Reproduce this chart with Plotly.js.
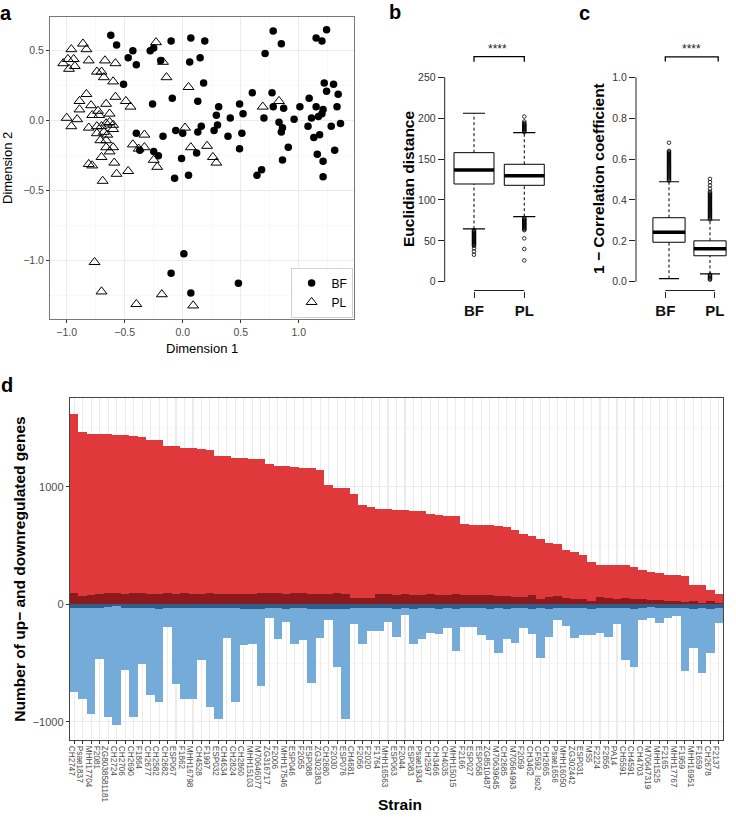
<!DOCTYPE html>
<html><head><meta charset="utf-8">
<script src="https://cdn.plot.ly/plotly-3.0.1.min.js"></script>
<style>html,body{margin:0;padding:0;background:#fff}#chart{width:736px;height:819px}</style>
</head><body><div id="chart"></div>
<script>
// ---------- Panel a: MDS coordinates ----------
const bfX = [-0.62,-0.57,-0.43,-0.47,-0.40,-0.51,-0.28,-0.25,-0.19,-0.10,0.07,0.19,0.06,0.15,0.18,-0.09,0.13,-0.26,0.31,0.49,0.29,0.41,0.30,0.16,0.27,0.13,-0.06,0.00,-0.40,-0.17,0.39,0.49,-0.37,-0.25,-0.21,0.12,-0.01,-0.07,0.05,
  0.78,0.85,0.71,1.15,1.20,1.24,0.60,0.77,0.78,0.87,0.70,0.83,0.86,0.85,0.96,1.01,1.09,1.08,1.11,1.15,1.17,1.20,1.21,1.18,1.13,1.22,1.24,1.30,1.34,1.33,1.36,1.28,1.31,1.16,1.21,1.21,0.91,0.86,0.64,0.68,0.52,0.51,
  0.01,-0.10,0.07,0.48];
const bfY = [0.61,0.54,0.50,0.45,0.40,0.26,0.50,0.52,0.43,0.57,0.59,0.57,0.42,0.45,0.27,0.16,0.14,0.12,0.10,0.12,0.04,0.02,-0.03,-0.04,-0.07,-0.08,-0.07,-0.09,-0.09,-0.11,-0.11,-0.20,-0.21,-0.22,-0.25,-0.23,-0.27,-0.41,-0.39,
  0.64,0.55,0.48,0.59,0.57,0.65,0.20,0.20,0.10,0.09,0.02,-0.01,-0.05,-0.08,0.01,0.10,0.16,-0.04,0.02,0.10,0.03,0.05,0.08,-0.10,-0.12,0.27,0.21,0.26,0.19,0.10,-0.02,-0.04,-0.21,-0.24,-0.29,-0.40,-0.19,-0.28,-0.39,-0.35,0.05,-0.09,
  -0.95,-1.09,-1.23,-1.16];
const plX = [-0.86,-0.96,-0.83,-1.03,-0.99,-0.94,-0.98,-0.93,-0.81,-0.67,-0.58,-0.74,-0.70,-0.68,-0.60,-0.23,-0.17,-0.14,0.05,-0.83,-0.89,-0.79,-0.89,-0.66,-0.58,-0.49,-0.45,-0.73,-0.63,-0.78,-0.72,-1.00,-0.91,-0.96,-0.81,-0.74,-0.70,-0.66,-0.63,-0.60,-0.74,-0.68,-0.65,-0.60,-0.71,-0.66,-0.66,-0.63,-0.60,-0.70,-0.81,-0.78,-0.59,-0.57,-0.47,-0.69,-0.33,-0.43,-0.38,-0.33,-0.25,-0.22,0.02,0.07,0.21,0.26,0.29,0.69,0.83,-0.76,-0.70,-0.40,-0.18,0.09];
const plY = [0.55,0.51,0.51,0.41,0.44,0.44,0.37,0.39,0.43,0.43,0.41,0.35,0.35,0.31,0.28,0.56,0.42,0.31,0.24,0.19,0.14,0.11,0.08,0.12,0.17,0.14,0.10,0.07,0.05,0.04,0.04,0.02,0.01,-0.04,-0.05,-0.04,-0.04,-0.02,-0.01,-0.03,-0.09,-0.08,-0.10,-0.06,-0.14,-0.14,-0.19,-0.22,-0.19,-0.26,-0.31,-0.32,-0.30,-0.38,-0.36,-0.43,-0.10,-0.17,-0.20,-0.19,-0.28,-0.33,-0.05,-0.19,-0.18,-0.26,-0.30,0.10,0.14,-1.01,-1.22,-1.31,-1.24,-1.32];

// ---------- Panels b & c: box statistics ----------
const groups = ['BF','PL'];
const groupPos = [1, 2];
const eucQ1 = [119.5, 117.9];
const eucMedian = [136.6, 129.6];
const eucQ3 = [157.8, 143.6];
const eucLowWhisker = [64.5, 79.5];
const eucHighWhisker = [206, 182.2];
const eucOutBF = [63,62,61,60,59,58,57,56,55,54,53,52,51,50,49,48,47,46,45,44,41,37,33];
const eucOutPL = [183,184,185,186,187,188,189,190,191,192,193,194,196,202,78,77,76,75,74,73,72,71,70,69,68,67,66,65,64,63,53,40,26];
const corQ1 = [0.193, 0.127];
const corMedian = [0.242, 0.161];
const corQ3 = [0.313, 0.200];
const corLowWhisker = [0.015, 0.038];
const corHighWhisker = [0.489, 0.302];
const corOutBF = [0.495,0.50,0.505,0.51,0.515,0.52,0.525,0.53,0.535,0.54,0.545,0.55,0.555,0.56,0.565,0.57,0.575,0.58,0.585,0.59,0.595,0.60,0.605,0.61,0.615,0.62,0.625,0.63,0.635,0.64,0.68];
const corOutPL = [0.305,0.31,0.315,0.32,0.325,0.33,0.335,0.34,0.345,0.35,0.355,0.36,0.365,0.37,0.375,0.38,0.385,0.39,0.395,0.40,0.405,0.41,0.415,0.42,0.425,0.43,0.435,0.44,0.455,0.471,0.487,0.503,0.035,0.03,0.025,0.02,0.015,0.01];

// ---------- Panel d: up / down regulated genes per strain ----------
const strains = ['CH2747','Psae1837','MHH17704','F2081','ZG8038581181','CH2724','CH2706','CH2690','F1864','CH2677','CH2582','CH2682','ESP067','F1862','MHH16798','CH4528','F1997','ESP032','CH4634','CH2824','CH2860','MHH15103','M70646077','ZG316717','F2006','MHH17546','ESP046','F2055','ESP088','ZG302383','CH2680','F2030','ESP076','CH4681','F2056','F2020','F1764','MHH16563','ESP063','F2044','ESP083','Psae1934','CH2597','CH3466','CH4035','MHH15015','F2166','ESP027','ESP058','ZG8510487','M70639645','CH2685','M70564993','F2059','CH3462','CF592_Iso2','CH2665','Psae1656','MHH16050','ZG302442','ESP031','MS5','F2224','F2856','PA14','CH5591','CH4591','CH4703','M70647319','MHH1525','F2165','MHH17767','F1959','MHH16951','F1659','CH2678','F2137'];
const upTotal = [1616,1466,1452,1446,1444,1438,1436,1432,1424,1396,1394,1347,1345,1333,1325,1319,1314,1263,1258,1248,1243,1235,1235,1189,1178,1174,1165,1162,1160,1142,1015,992,986,940,847,827,810,806,804,799,796,793,764,760,752,749,686,677,676,672,664,656,629,600,580,558,520,516,459,444,418,362,338,336,336,334,316,291,276,263,250,247,243,166,162,121,88];
const upStrong = [93,74,76,90,92,94,91,93,92,90,88,92,90,93,91,89,92,90,88,91,90,88,92,94,93,90,92,95,90,91,88,93,90,52,50,54,84,86,82,85,80,83,86,82,80,84,79,82,80,81,72,70,60,66,78,42,58,70,50,46,42,28,60,52,48,55,46,44,40,36,30,24,16,28,10,24,12];
const downTotal = [-748,-808,-935,-468,-961,-1026,-561,-955,-505,-771,-828,-196,-678,-808,-808,-474,-871,-978,-289,-831,-349,-338,-695,-119,-295,-153,-340,-304,-672,-284,-134,-530,-975,-170,-338,-224,-224,-150,-275,-91,-340,-295,-241,-252,-204,-394,-196,-190,-261,-304,-417,-295,-332,-204,-252,-459,-275,-134,-184,-284,-261,-261,-246,-275,-167,-474,-530,-134,-119,-156,-119,-99,-567,-374,-581,-417,-156];
const downStrong = [-32,-35,-30,-28,-24,-18,-30,-34,-30,-33,-36,-30,-28,-34,-32,-30,-35,-33,-30,-31,-38,-36,-40,-35,-33,-37,-35,-34,-38,-36,-40,-37,-42,-30,-33,-35,-32,-34,-36,-30,-38,-33,-35,-36,-32,-40,-30,-33,-35,-38,-28,-36,-30,-34,-40,-32,-36,-30,-28,-33,-30,-42,-35,-30,-33,-28,-40,-30,-26,-32,-30,-28,-35,-40,-30,-42,-35];

// ---------- build ----------
const FONT = 'Liberation Sans, Arial, Helvetica, sans-serif';
const W = 736, H = 819;
const px = v => v / W;
const py = v => 1 - v / H;
const traces = [];

traces.push({type:'scatter', mode:'markers', name:'BF', x:bfX, y:bfY, xaxis:'x', yaxis:'y',
  marker:{symbol:'circle', size:7.5, color:'#000'}, showlegend:true});
traces.push({type:'scatter', mode:'markers', name:'PL', x:plX, y:plY, xaxis:'x', yaxis:'y',
  marker:{symbol:'triangle-up-open', size:9.5, color:'#000', line:{width:1, color:'#000'}}, showlegend:true});

function boxPanel(ax, ay, q1, med, q3, lo, hi, outs, boxW, capW) {
  for (let i = 0; i < groups.length; i++) {
    const c = groupPos[i];
    traces.push({type:'scatter', mode:'lines', x:[c,c], y:[q3[i],hi[i]], xaxis:ax, yaxis:ay, showlegend:false,
      line:{color:'#000', width:1, dash:'3px,2.5px'}});
    traces.push({type:'scatter', mode:'lines', x:[c,c], y:[lo[i],q1[i]], xaxis:ax, yaxis:ay, showlegend:false,
      line:{color:'#000', width:1, dash:'3px,2.5px'}});
    traces.push({type:'scatter', mode:'lines', x:[c-capW/2,c+capW/2], y:[hi[i],hi[i]], xaxis:ax, yaxis:ay, showlegend:false,
      line:{color:'#000', width:1.2}});
    traces.push({type:'scatter', mode:'lines', x:[c-capW/2,c+capW/2], y:[lo[i],lo[i]], xaxis:ax, yaxis:ay, showlegend:false,
      line:{color:'#000', width:1.2}});
    traces.push({type:'box', x:[c], q1:[q1[i]], median:[med[i]], q3:[q3[i]], lowerfence:[q1[i]], upperfence:[q3[i]],
      width:boxW, xaxis:ax, yaxis:ay, showlegend:false, boxpoints:false, whiskerwidth:0,
      fillcolor:'#fff', line:{color:'#000', width:1}});
    traces.push({type:'scatter', mode:'lines', x:[c-boxW/2,c+boxW/2], y:[med[i],med[i]], xaxis:ax, yaxis:ay, showlegend:false,
      line:{color:'#000', width:3.5}});
    traces.push({type:'scatter', mode:'markers', x:outs[i].map(() => c), y:outs[i], xaxis:ax, yaxis:ay, showlegend:false,
      marker:{symbol:'circle-open', size:3.6, color:'#000', line:{width:0.8}}});
  }
}
boxPanel('x2','y2', eucQ1, eucMedian, eucQ3, eucLowWhisker, eucHighWhisker, [eucOutBF, eucOutPL], 0.795, 0.44);
boxPanel('x3','y3', corQ1, corMedian, corQ3, corLowWhisker, corHighWhisker, [corOutBF, corOutPL], 0.785, 0.49);

traces.push({type:'scatter', mode:'lines', x:[1,1,2,2], y:[269,275.2,275.2,269], xaxis:'x2', yaxis:'y2', showlegend:false,
  line:{color:'#000', width:1.3}, cliponaxis:false});
traces.push({type:'scatter', mode:'lines', x:[0.91,0.91,2.2,2.2], y:[1.077,1.1,1.1,1.077], xaxis:'x3', yaxis:'y3', showlegend:false,
  line:{color:'#000', width:1.3}, cliponaxis:false});

traces.push({type:'bar', x:strains, y:upTotal, xaxis:'x4', yaxis:'y4', showlegend:false, marker:{color:'#E0393B', line:{width:0}}});
traces.push({type:'bar', x:strains, y:upStrong, xaxis:'x4', yaxis:'y4', showlegend:false, marker:{color:'#8C1A1C', line:{width:0}}});
traces.push({type:'bar', x:strains, y:downTotal, xaxis:'x4', yaxis:'y4', showlegend:false, marker:{color:'#74ABD8', line:{width:0}}});
traces.push({type:'bar', x:strains, y:downStrong, xaxis:'x4', yaxis:'y4', showlegend:false, marker:{color:'#2F5F8A', line:{width:0}}});

const tickGrey = '#4d4d4d';
const frame = '#444';

const layout = {
  width: W, height: H,
  margin: {l:0, r:0, t:0, b:0},
  paper_bgcolor:'#fff', plot_bgcolor:'#fff',
  font: {family: FONT, color:'#000'},
  barmode: 'overlay', bargap: 0,
  showlegend: true,
  legend: {x: px(353), y: py(318), xanchor:'right', yanchor:'bottom', bgcolor:'#fff', bordercolor:'#b0b0b0', borderwidth:0.6,
    font:{size:12, family:FONT}, itemwidth:30, tracegroupgap:2, itemsizing:'trace'},
  xaxis: {domain:[px(50), px(354.3)], range:[-1.144, 1.479], anchor:'y', tickvals:[-1,-0.5,0,0.5,1], tickformat:'.1f',
    ticks:'outside', ticklen:3, tickcolor:'#333', tickfont:{size:10.5, color:tickGrey},
    showgrid:true, gridcolor:'#ebebeb', gridwidth:1.1, zeroline:false,
    minor:{tickvals:[-0.75,-0.25,0.25,0.75,1.25], showgrid:true, gridcolor:'#f3f3f3', gridwidth:0.6},
    showline:true, mirror:true, linecolor:'#777', linewidth:1,
    title:{text:'Dimension 1', font:{size:13, color:'#000'}, standoff:7}},
  yaxis: {domain:[py(319), py(16.7)], range:[-1.416, 0.743], anchor:'x', tickvals:[-1,-0.5,0,0.5], tickformat:'.1f',
    ticks:'outside', ticklen:3, tickcolor:'#333', tickfont:{size:10.5, color:tickGrey},
    showgrid:true, gridcolor:'#ebebeb', gridwidth:1.1, zeroline:false,
    minor:{tickvals:[-1.25,-0.75,-0.25,0.25], showgrid:true, gridcolor:'#f3f3f3', gridwidth:0.6},
    showline:true, mirror:true, linecolor:'#777', linewidth:1,
    title:{text:'Dimension 2', font:{size:13, color:'#000'}, standoff:7}},
  xaxis2: {domain:[px(444.7), px(560)], range:[0.4175, 2.71], anchor:'y2', tickvals:groupPos, ticktext:groups,
    ticks:'outside', ticklen:6, tickcolor:'#222', tickfont:{size:15, weight:'bold', color:'#111'},
    showgrid:false, zeroline:false, showline:false},
  yaxis2: {domain:[py(290.5), py(40)], range:[-10.76, 295.6], anchor:'x2', tickvals:[0,50,100,150,200,250],
    ticks:'outside', ticklen:6, tickcolor:'#222', tickfont:{size:10.5, color:'#333'},
    showgrid:false, zeroline:false, showline:false},
  xaxis3: {domain:[px(636), px(730)], range:[0.195, 2.488], anchor:'y3', tickvals:[0.91, 2.12], ticktext:groups,
    ticks:'outside', ticklen:6, tickcolor:'#222', tickfont:{size:15, weight:'bold', color:'#111'},
    showgrid:false, zeroline:false, showline:false},
  yaxis3: {domain:[py(290.5), py(40)], range:[-0.043, 1.1825], anchor:'x3', tickvals:[0,0.2,0.4,0.6,0.8,1.0], tickformat:'.1f',
    ticks:'outside', ticklen:6, tickcolor:'#222', tickfont:{size:10.5, color:'#333'},
    showgrid:false, zeroline:false, showline:false},
  xaxis4: {domain:[px(70), px(723)], range:[-0.5, 76.5], anchor:'y4', type:'category', categoryorder:'array', categoryarray:strains,
    tickmode:'array', tickvals:strains, ticktext:strains,
    tickangle:90, tickfont:{size:8.2, color:tickGrey}, ticks:'outside', ticklen:3, tickcolor:'#333', ticklabelshift:-3,
    showgrid:true, gridcolor:'#ebebeb', gridwidth:1.1, zeroline:false,
    showline:true, mirror:true, linecolor:frame, linewidth:1.2},
  yaxis4: {domain:[py(740), py(398)], range:[-1154, 1754], anchor:'x4', tickvals:[-1000,0,1000], ticktext:['\u22121000','0','1000'],
    ticks:'outside', ticklen:3, tickcolor:'#333', tickfont:{size:11, color:tickGrey},
    showgrid:true, gridcolor:'#ebebeb', gridwidth:1.1, zeroline:false,
    minor:{tickvals:[-500,500,1500], showgrid:true, gridcolor:'#f3f3f3', gridwidth:0.6},
    showline:true, mirror:true, linecolor:frame, linewidth:1.2,
    title:{text:'Number of up\u2212 and downregulated genes', font:{size:15.5, weight:'bold', color:'#000'}, standoff:3}},
  shapes: [
    {type:'line', xref:'x2 domain', x0:0, x1:0, yref:'y2', y0:0, y1:250, line:{color:'#222', width:1}},
    {type:'line', xref:'x2', x0:1, x1:2, yref:'y2 domain', y0:0, y1:0, line:{color:'#222', width:1}},
    {type:'line', xref:'x3 domain', x0:0, x1:0, yref:'y3', y0:0, y1:1, line:{color:'#222', width:1}},
    {type:'line', xref:'x3', x0:0.91, x1:2.12, yref:'y3 domain', y0:0, y1:0, line:{color:'#222', width:1}}
  ],
  annotations: [
    {text:'<b>a</b>', x:px(6), y:py(0), xref:'paper', yref:'paper', showarrow:false, font:{size:20}, xanchor:'center', yanchor:'top'},
    {text:'<b>b</b>', x:px(395), y:py(-1), xref:'paper', yref:'paper', showarrow:false, font:{size:20}, xanchor:'center', yanchor:'top'},
    {text:'<b>c</b>', x:px(584), y:py(0), xref:'paper', yref:'paper', showarrow:false, font:{size:20}, xanchor:'center', yanchor:'top'},
    {text:'<b>d</b>', x:px(7), y:py(385), xref:'paper', yref:'paper', showarrow:false, font:{size:20}, xanchor:'center', yanchor:'middle'},
    {text:'****', x:px(498), y:py(49), xref:'paper', yref:'paper', showarrow:false, font:{size:12, color:'#222'}, xanchor:'center', yanchor:'middle'},
    {text:'****', x:px(691), y:py(49), xref:'paper', yref:'paper', showarrow:false, font:{size:12, color:'#222'}, xanchor:'center', yanchor:'middle'},
    {text:'<b>Euclidian distance</b>', x:px(408), y:py(179), xref:'paper', yref:'paper', showarrow:false, textangle:-90, font:{size:15.5}, xanchor:'center', yanchor:'middle'},
    {text:'<b>1 \u2212 Correlation coefficient</b>', x:px(598), y:py(179), xref:'paper', yref:'paper', showarrow:false, textangle:-90, font:{size:15.5}, xanchor:'center', yanchor:'middle'},
    {text:'<b>Strain</b>', x:px(400), y:py(804), xref:'paper', yref:'paper', showarrow:false, font:{size:15.5}, xanchor:'center', yanchor:'middle'}
  ]
};

Plotly.newPlot('chart', traces, layout, {displayModeBar:false, staticPlot:true});
</script>
</body></html>
